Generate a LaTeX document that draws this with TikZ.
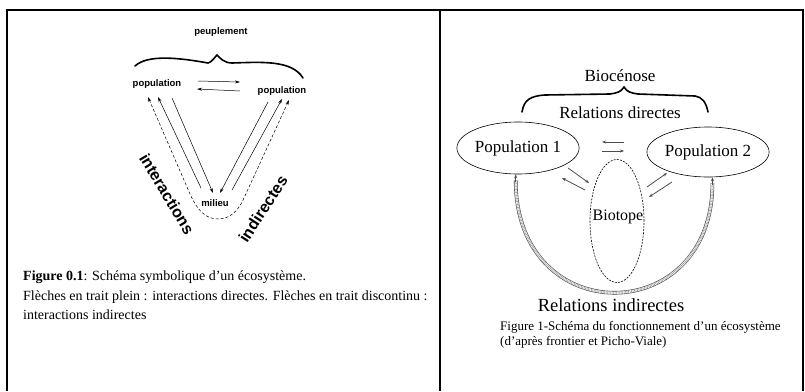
\documentclass[tikz,border=0pt]{standalone}
\usepackage{fontspec}
\setmainfont{Liberation Serif}
\setsansfont{Liberation Sans}
\usetikzlibrary{shapes.geometric,arrows.meta,calc}

\begin{document}
\begin{tikzpicture}[x=1pt,y=-1pt,
  sans/.style={font=\sffamily\bfseries\fontsize{9.5}{11}\selectfont, inner sep=1pt},
  bigsans/.style={font=\sffamily\bfseries\fontsize{16}{18}\selectfont, inner sep=0pt},
  serif/.style={font=\fontsize{17}{20}\selectfont, inner sep=0pt},
  captext/.style={font=\fontsize{14}{17}\selectfont, anchor=west, inner sep=0pt},
  smallcap/.style={font=\fontsize{13}{15}\selectfont, anchor=west, inner sep=0pt},
  arr/.style={-{Stealth[length=5pt,width=3pt]}, line width=0.5pt},
  dasharrs/.style={{Stealth[length=5pt,width=3pt]}-{Stealth[length=5pt,width=3pt]}, line width=0.5pt, dash pattern=on 3pt off 2pt},
  sarr/.style={-{Stealth[length=4pt,width=3pt]}, line width=0.8pt, black!70},
  popell/.style={ellipse, draw, line width=0.6pt},
  bioell/.style={ellipse, draw, line width=0.6pt, dash pattern=on 2pt off 1.2pt},
  brace/.style={line width=1.6pt, line cap=round},
  dblline/.style={draw=black!75, line width=0.6pt, double=white, double distance=2.4pt},
  hatch/.style={draw=gray!80, line width=2.4pt, dash pattern=on 0.6pt off 0.9pt}]
\useasboundingbox (0,0) rectangle (805,391);
% table frame
\draw[line width=2pt] (7,391) -- (7,10) -- (803,10) -- (803,391);
\draw[line width=2pt] (440,10) -- (440,391);

% left figure
\node[sans] (peup) at (221,32) {peuplement};
\node[sans] (popA) at (157,84) {population};
\node[sans] (popB) at (282,91) {population};
\node[sans] (milieu) at (215,203) {milieu};
\node[bigsans, rotate=-59] (inter) at (167,194) {interactions};
\node[bigsans, rotate=57] (indir) at (263,209) {indirectes};
\draw[brace] (135,66) .. controls (148,54) and (180,58) .. (208,63) .. controls (212,62) and (214,58) .. (217,55) .. controls (220,58) and (224,63) .. (232,63) .. controls (262,62) and (292,60) .. (303,78);
\draw[arr] ($(popA)+(41,-3)$) -- ($(popB)+(-42,-9)$);
\draw[arr] ($(popB)+(-42,0)$) -- ($(popA)+(40,5)$);
\draw[arr] ($(milieu)+(-14,-15)$) -- ($(popA)+(1,13)$);
\draw[arr] ($(popA)+(15,14)$) -- ($(milieu)+(-2,-10)$);
\draw[arr] ($(popB)+(-14,11)$) -- ($(milieu)+(5,-10)$);
\draw[arr] ($(milieu)+(17,-13)$) -- ($(popB)+(0,8)$);
\draw[dasharrs] ($(popA)+(-9,13)$) -- (190,194) .. controls (198,212) and (207,219) .. (218,219) .. controls (229,219) and (238,212) .. (244,198) -- ($(popB)+(7,9)$);
\node[captext] (capA) at (23,277) {\textbf{Figure 0.1}: Schéma symbolique d'un écosystème.};
\node[captext] (capB) at (23,297) {Flèches en trait plein : interactions directes. Flèches en trait discontinu :};
\node[captext] (capC) at (23,315) {interactions indirectes};

% right figure
\node[serif] (bioc) at (620,76) {Biocénose};
\draw[brace] (522,112) .. controls (524,100) and (530,96) .. (545,95) -- (610,94) .. controls (617,93) and (621,92) .. (624,87) .. controls (627,92) and (631,93) .. (638,94) -- (695,96) .. controls (702,97) and (706,102) .. (708,112);
\node[serif] (reldir) at (620,113) {Relations directes};
\node[popell, serif, minimum width=104pt, minimum height=52pt] (pop1) at (518,148) {Population 1};
\node[popell, serif, minimum width=103pt, minimum height=50pt] (pop2) at (708,152) {Population 2};
\node[bioell, minimum width=54pt, minimum height=123pt] (biotope) at (617,221) {};
\node[serif, font=\fontsize{16}{18}\selectfont] (biotxt) at (618,217) {Biotope};
\draw[sarr] ($(pop1)+(106,-6)$) -- ($(pop1)+(84,-6)$);
\draw[sarr] ($(pop1)+(84,3)$) -- ($(pop1)+(106,3)$);
\draw[sarr] ($(pop1)+(50,20)$) -- ($(pop1)+(71,35)$);
\draw[sarr] ($(pop1)+(67,42)$) -- ($(pop1)+(44,30)$);
\draw[sarr] ($(pop2)+(-61,35)$) -- ($(pop2)+(-41,21)$);
\draw[sarr] ($(pop2)+(-36,30)$) -- ($(pop2)+(-59,45)$);
\draw[dblline] ($(pop1.-95)+(0,6)$) .. controls +(0,150) and +(0,146) .. ($(pop2.-80)+(0,6)$);
\draw[hatch] ($(pop1.-95)+(0,6)$) .. controls +(0,150) and +(0,146) .. ($(pop2.-80)+(0,6)$);
\draw[sarr] ($(pop1.-95)+(0,8)$) -- (pop1.-95);
\draw[sarr] ($(pop2.-80)+(0,8)$) -- (pop2.-80);
\node[serif, font=\fontsize{18.5}{21}\selectfont] (relind) at (611,305) {Relations indirectes};
\node[smallcap] (capD) at (500,327) {Figure 1-Schéma du fonctionnement d'un écosystème};
\node[smallcap] (capE) at (500,342) {(d'après frontier et Picho-Viale)};
\end{tikzpicture}
\end{document}
